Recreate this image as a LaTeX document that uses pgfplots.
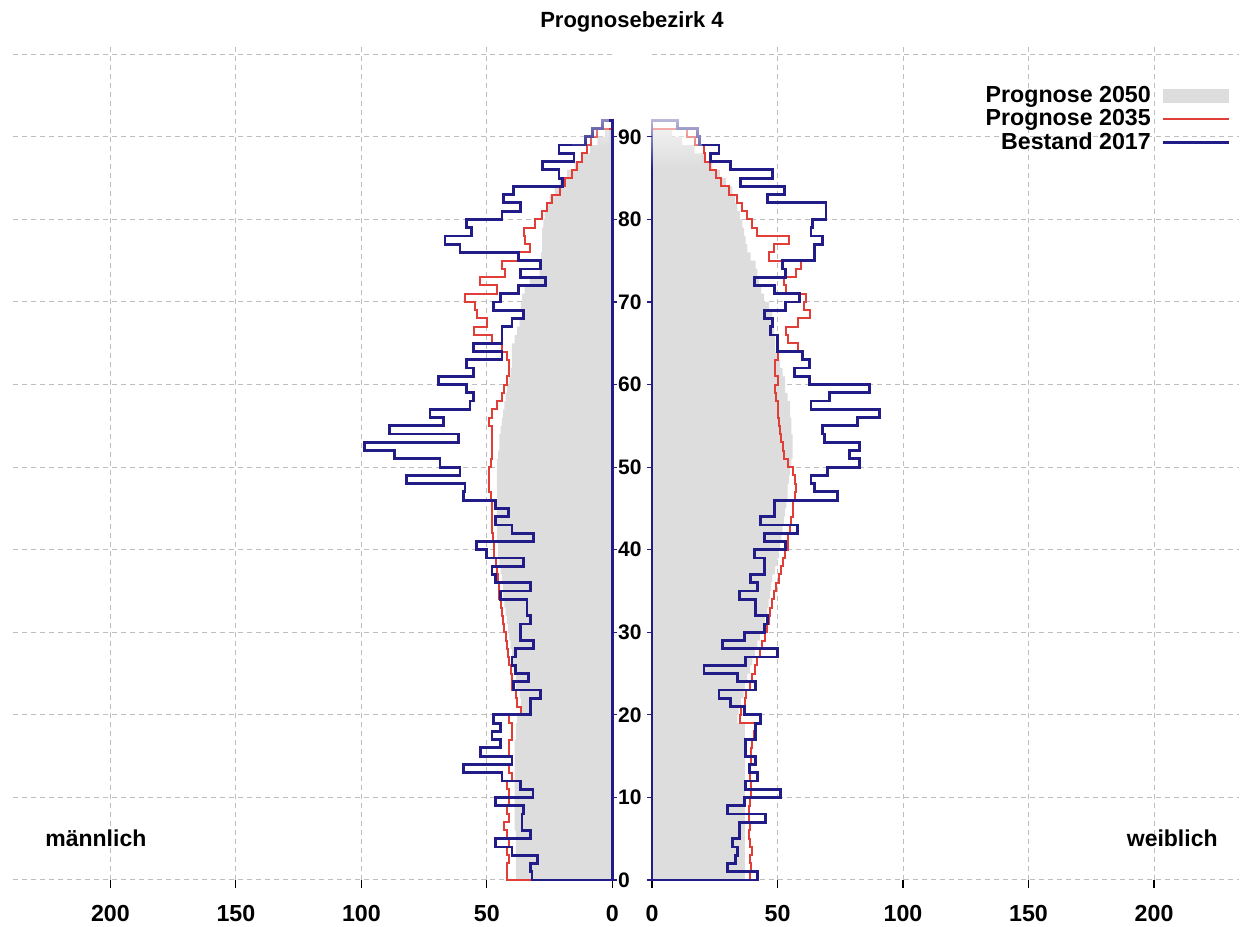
\documentclass[border=0pt]{standalone}
\usepackage{pgfplots}
\pgfplotsset{compat=1.18}
\usepackage{pgfplotstable}
\usetikzlibrary{fadings}
\usepackage{fontspec}
\setmainfont{Liberation Sans}

\definecolor{gfill}{RGB}{221,221,221}
\definecolor{rline}{RGB}{226,62,56}
\definecolor{bline}{RGB}{34,28,136}
\definecolor{gridc}{RGB}{190,190,190}

\pgfplotstableread{
a mg mr mb fg fr fb
0 0 0 0 0 0 0
0 38.5 42 32 37 39 42
1 38.5 42 32.7 37 39.5 30
2 38.5 41 29.7 37 39 33.3
3 38.5 42 40 37 40 34
4 38.5 41 46.7 37 39 32
5 38.5 42 32.7 37 38.5 34.7
6 39 43 36 37 39 34.7
7 39 41 36 37 38.5 45.3
8 39 42 35.3 37 38.5 30
9 39 41 46.7 37 39 36.7
10 39 41 31.6 37 39.5 51.3
11 39 42 36.7 37 39.5 37.3
12 39 40 44 37 39 42
13 39 41 59.3 37 39 38.7
14 39 40 40 37 39.5 41.3
15 39 41 52.7 37 39.5 37.3
16 39 41 44.7 37 40 37.3
17 38.5 40 48 37 40.5 41.3
18 38.5 40 44.7 37 41 41.3
19 38 41 47.3 34 35 43.3
20 36 36.5 32.7 34.5 35.5 36.7
21 36.5 38 32.7 35.5 37 31.3
22 37 38.5 28.7 36.5 37.5 26.7
23 38.5 40 39.3 37 39 41.3
24 38.5 40 33.3 38 40 34
25 39 40.5 38.7 39 41 20.7
26 39.5 41 40 40 42 37.3
27 40 41.5 38.7 41 43 50
28 40.5 42 31.3 42 44 28
29 41 42.5 36.7 43 45 36.7
30 41.5 43 36.7 44.5 46 44.7
31 42 43.5 32.7 45 46.5 46
32 42.5 44 34 46 47 41.3
33 43 44.5 34 46.5 48 41.3
34 43.5 45 44.7 47 48.5 34.7
35 43.5 45 32.7 47.5 49.5 42
36 44 45.5 46.7 48 50.5 39.3
37 44.5 46 48 49 51.5 44.7
38 45 46.5 35.3 50 52 44.7
39 45.5 47 50 50.5 53 40.7
40 45.5 47 54 51 54 53.3
41 46 47.5 31.3 51.5 54 44.7
42 46 48 40 52 55 58
43 46 48 46.7 52.5 55.5 43.3
44 46 48 41.3 53 56 48.7
45 46 48 46.7 53.5 56 48.7
46 46 48.5 59.3 54 57 74
47 46 49 58.7 54 57.5 64.7
48 46 49 82 54.5 57 63.3
49 46 49 60.7 55 56 70
50 46 48.5 68.7 55.5 54 82.7
51 45.5 48 86.7 56 52.5 78.7
52 45 48 98.7 56 52 82.7
53 45 48 61.3 56 51.5 68.7
54 44.5 48 88.7 55.5 51 68
55 44 49 67.3 55.5 50.5 82
56 43.5 48 72.7 55 50 90.7
57 43 46 56.7 55 50 63.3
58 42.5 44 55.3 54 49.5 70.7
59 42 43 58 53 49 86.7
60 41 42 69.3 53 50 62.7
61 40.5 41 55.3 52 49 56.7
62 40 41 58 51 49 62.7
63 40 42 44 50 50 60
64 40 44 55.3 49 58 50
65 39 48 44 49 54 50
66 38 55 44 48.5 53.3 47.3
67 37 50 40 48 58 48
68 36 54 35.3 48 63 44.7
69 36.5 54.7 47.3 46.7 60.7 53.3
70 36 58.7 44.7 44.7 61.3 58.7
71 35 46 37.3 43.5 53.3 48.7
72 33 52.7 26.7 42.7 52.7 40.7
73 29 42.7 36.7 42 57.3 53.3
74 28.5 44 28.7 41.3 59.3 52
75 28.5 37.3 37.3 39.3 46.7 64.7
76 28 32.7 60.7 38 48.7 64.7
77 28 34.7 66.7 37.3 54.7 68
78 28 35.3 56 36.7 42 63.3
79 27.5 30.7 58 36 40 64
80 27 28 44 35 38 69.3
81 26 26 36.7 34 36 69.3
82 25 24 43.3 33 34 46
83 23 20.7 39.3 32 30.7 52.7
84 21 18.7 20 29.5 27.3 35.3
85 18 16 21.3 27 25.3 48
86 15 14 28 24 23.3 31.3
87 12 12 15.3 21 21.3 23.3
88 9 10 21.3 17 20.7 26.7
89 6 8.7 10.7 12 17 19
90 3 6 8 8 14 18
91 0 0 4 0 0 10
92 0 0 0 0 0 0
0 0 0 0 0 0 0
}\pyr

\pgfplotsset{pyr/.style={
  scale only axis, height=417pt, ymin=0, ymax=101, xmin=0,
  clip=false,
  axis line style={draw=none},
  ytick={0,10,...,100}, yticklabels={}, ytick style={draw=none},
  xtick={50,100,150,200},
  extra x ticks={0}, extra x tick style={grid=none},
  xtick pos=left, tick align=outside,
  xtick style={black, line width=0.6pt}, major tick length=4pt,
  grid=major,
  major grid style={gridc, line width=0.5pt, dash pattern=on 2.5pt off 2pt},
  /pgf/number format/assume math mode=true,
  xticklabel style={font=\fontsize{11.6}{13}\selectfont\bfseries, yshift=-5pt},
  every axis plot/.append style={const plot mark right},
}}

\begin{document}
\begin{tikzpicture}
\useasboundingbox (0,0) rectangle (624.5pt,463.5pt);
\begin{axis}[pyr, at={(5pt,23.5pt)}, anchor=south west, width=301.2pt, xmax=240, x dir=reverse]
\addplot[fill=gfill, draw=none] table[x=mg,y=a]{\pyr};
\addplot[rline, line width=1pt] table[x=mr,y=a]{\pyr};
\addplot[bline, line width=1.4pt] table[x=mb,y=a]{\pyr};
\fill[white, opacity=0.6, path fading=south] (axis cs:1.5,88.5) rectangle (axis cs:16,93);
\pgfplotsinvokeforeach{0,10,20,30,40,50,60,70,80,90}{
  \draw[bline, line width=0.6pt] (axis cs:0,#1) -- ++(2.5pt,0);
  \node[anchor=west, font=\fontsize{10.5}{12}\selectfont\bfseries, inner sep=0.5pt] at ([xshift=2.2pt]axis cs:0,#1) {#1};
}
\end{axis}
\begin{axis}[pyr, at={(326pt,23.5pt)}, anchor=south west, width=293.7pt, xmax=234,
  legend plot pos=right, legend cell align=right,
  legend style={at={(0.989,0.959)}, anchor=north east, draw=none, fill=none,
    font=\fontsize{11.6}{13}\selectfont\bfseries, row sep=-2pt, inner sep=1pt}]
\addplot[fill=gfill, draw=none, legend image code/.code={\fill[gfill] (3pt,-3.5pt) rectangle (36pt,3.5pt);}] table[x=fg,y=a]{\pyr};
\addlegendentry{Prognose 2050\rule{3.5pt}{0pt}}
\addplot[rline, line width=1pt, legend image code/.code={\draw[rline, line width=1pt] (3pt,0pt) -- (36pt,0pt);}] table[x=fr,y=a]{\pyr};
\addlegendentry{Prognose 2035\rule{3.5pt}{0pt}}
\addplot[bline, line width=1.4pt, legend image code/.code={\draw[bline, line width=1.4pt] (3pt,0pt) -- (36pt,0pt);}] table[x=fb,y=a]{\pyr};
\addlegendentry{Bestand 2017\rule{3.5pt}{0pt}}
\fill[white, opacity=0.85, path fading=south] (axis cs:-0.3,86) rectangle (axis cs:20,93.5);
\pgfplotsinvokeforeach{0,10,20,30,40,50,60,70,80,90}{
  \draw[bline, line width=0.6pt] (axis cs:0,#1) -- ++(-2.5pt,0);
}
\end{axis}
\node[font=\fontsize{11}{13}\selectfont\bfseries] at (316pt,452.5pt) {Prognosebezirk 4};
\node[anchor=west, inner sep=0pt, font=\fontsize{11.5}{13}\selectfont\bfseries] at (22.5pt,44.5pt) {männlich};
\node[anchor=east, inner sep=0pt, font=\fontsize{11.5}{13}\selectfont\bfseries] at (609pt,44.5pt) {weiblich};
\end{tikzpicture}
\end{document}
